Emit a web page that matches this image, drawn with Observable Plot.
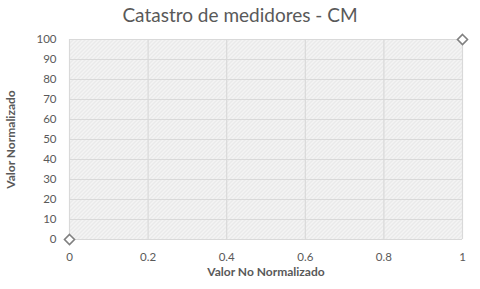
<!DOCTYPE html>
<html>
<head>
<meta charset="utf-8">
<script src="https://cdn.jsdelivr.net/npm/d3@7"></script>
<script src="https://cdn.jsdelivr.net/npm/@observablehq/plot@0.6"></script>
<style>
  html, body { margin: 0; padding: 0; background: #fff; }
  #title { width: 480px; height: 28px; line-height: 30px; text-align: center; font-family: Lato, "Open Sans", sans-serif; font-size: 19px; color: #595959; }
</style>
</head>
<body>
<div id="title">Catastro de medidores - CM</div>
<div id="chart"></div>
<script>
const xValues = [0, 1];
const yValues = [0, 100];
const xTicks = [0, 0.2, 0.4, 0.6, 0.8, 1];
const yTicks = [0, 10, 20, 30, 40, 50, 60, 70, 80, 90, 100];
const xTitle = "Valor No Normalizado";
const yTitle = "Valor Normalizado";

const points = xValues.map((x, i) => ({x, y: yValues[i]}));

const svg = Plot.plot({
  width: 480,
  height: 261,
  marginTop: 11,
  marginBottom: 50,
  marginLeft: 69,
  marginRight: 18,
  style: {fontFamily: "Lato, 'Open Sans', sans-serif", fontSize: "11.5px", color: "#595959", background: "transparent"},
  x: {domain: [0, 1], label: null},
  y: {domain: [0, 100], label: null},
  marks: [
    Plot.frame({fill: "url(#hatch)", stroke: "none"}),
    Plot.ruleY(yTicks, {stroke: "#d9d9d9", strokeWidth: 1.2, strokeOpacity: 1}),
    Plot.ruleX(xTicks, {stroke: "#d9d9d9", strokeWidth: 1.2, strokeOpacity: 1}),
    Plot.axisX({ticks: xTicks, tickFormat: d => String(d), tickSize: 0, tickPadding: 13, label: null, fill: "#595959"}),
    Plot.axisY({ticks: yTicks, tickFormat: d => String(d), tickSize: 0, tickPadding: 13, label: null, fill: "#595959"}),
    Plot.text([yTitle], {frameAnchor: "left", dx: -58, rotate: -90, textAnchor: "middle", text: d => d, fontWeight: "bold", fontSize: 12, fill: "#595959"}),
    Plot.text([xTitle], {frameAnchor: "bottom", dy: 36, textAnchor: "middle", text: d => d, fontWeight: "bold", fontSize: 12, fill: "#595959"}),
    Plot.dot(points, {x: "x", y: "y", symbol: "diamond2", r: 4.5, stroke: "#808080", strokeWidth: 1.6, fill: "#ffffff", clip: false})
  ]
});

const ns = "http://www.w3.org/2000/svg";
const defs = document.createElementNS(ns, "defs");
defs.innerHTML = `
<pattern id="hatch" patternUnits="userSpaceOnUse" width="4" height="4">
  <rect width="4" height="4" fill="#f4f4f4"/>
  <path d="M-1,1 l2,-2 M0,4 l4,-4 M3,5 l2,-2" stroke="#e0e0e0" stroke-width="1"/>
</pattern>`;
svg.insertBefore(defs, svg.firstChild);
document.getElementById("chart").appendChild(svg);
</script>
</body>
</html>
